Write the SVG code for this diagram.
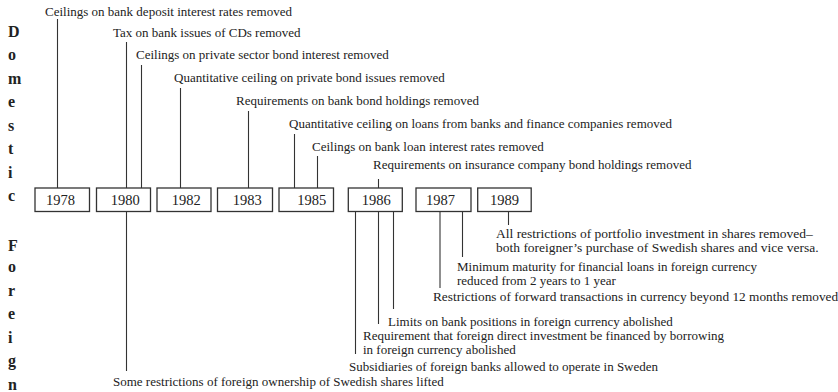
<svg xmlns="http://www.w3.org/2000/svg" width="838" height="392" viewBox="0 0 838 392">
<style>
text{font-family:"Liberation Serif","Times New Roman",serif;fill:#222}
.lbl{font-size:13px}
.yr{font-size:14.5px}
.side{font-size:16px;font-weight:bold}
.box{fill:#fff;stroke:#333;stroke-width:1.3}
.ln{stroke:#333;stroke-width:1.1;fill:none}
</style>
<rect width="838" height="392" fill="#fff"/>
<g id="side-labels">
<text class="side" x="8" y="36.7">D</text>
<text class="side" x="8" y="60">o</text>
<text class="side" x="8" y="83.5">m</text>
<text class="side" x="8" y="107">e</text>
<text class="side" x="8" y="130.5">s</text>
<text class="side" x="8" y="154">t</text>
<text class="side" x="8" y="177.5">i</text>
<text class="side" x="8" y="201">c</text>
<text class="side" x="8" y="251">F</text>
<text class="side" x="8" y="272">o</text>
<text class="side" x="8" y="295.5">r</text>
<text class="side" x="8" y="319">e</text>
<text class="side" x="8" y="342.5">i</text>
<text class="side" x="8" y="366">g</text>
<text class="side" x="8" y="389.5">n</text>
</g>
<g id="connectors">
<line class="ln" x1="57.5" y1="19" x2="57.5" y2="188"/>
<line class="ln" x1="126.5" y1="42" x2="126.5" y2="188"/>
<line class="ln" x1="141.5" y1="65" x2="141.5" y2="188"/>
<line class="ln" x1="180.5" y1="88" x2="180.5" y2="188"/>
<line class="ln" x1="248.5" y1="111" x2="248.5" y2="188"/>
<line class="ln" x1="294.5" y1="134" x2="294.5" y2="188"/>
<line class="ln" x1="317.5" y1="156" x2="317.5" y2="188"/>
<line class="ln" x1="378.5" y1="179" x2="378.5" y2="188"/>
<line class="ln" x1="126.5" y1="211.5" x2="126.5" y2="371"/>
<line class="ln" x1="355.5" y1="211.5" x2="355.5" y2="354"/>
<line class="ln" x1="378.5" y1="211.5" x2="378.5" y2="324"/>
<line class="ln" x1="393.5" y1="211.5" x2="393.5" y2="309"/>
<line class="ln" x1="440" y1="211.5" x2="440" y2="288"/>
<line class="ln" x1="462.5" y1="211.5" x2="462.5" y2="257"/>
<line class="ln" x1="508.5" y1="211.5" x2="508.5" y2="225"/>
</g>
<g id="y1978"><rect class="box" x="35" y="188" width="54.5" height="23.5"/><text class="yr" x="46" y="205">1978</text></g>
<g id="y1980"><rect class="box" x="96.5" y="188" width="54" height="23.5"/><text class="yr" x="110.7" y="205">1980</text></g>
<g id="y1982"><rect class="box" x="157" y="188" width="54" height="23.5"/><text class="yr" x="171.7" y="205">1982</text></g>
<g id="y1983"><rect class="box" x="217.5" y="188" width="55" height="23.5"/><text class="yr" x="232.7" y="205">1983</text></g>
<g id="y1985"><rect class="box" x="279" y="188" width="54.5" height="23.5"/><text class="yr" x="297.3" y="205">1985</text></g>
<g id="y1986"><rect class="box" x="348.3" y="188" width="54" height="23.5"/><text class="yr" x="361.7" y="205">1986</text></g>
<g id="y1987"><rect class="box" x="416" y="188" width="55" height="23.5"/><text class="yr" x="426" y="205">1987</text></g>
<g id="y1989"><rect class="box" x="477.7" y="188" width="53.5" height="23.5"/><text class="yr" x="490" y="205">1989</text></g>
<g id="domestic-labels">
<text class="lbl" x="45" y="16">Ceilings on bank deposit interest rates removed</text>
<text class="lbl" x="113" y="37">Tax on bank issues of CDs removed</text>
<text class="lbl" x="136" y="59">Ceilings on private sector bond interest removed</text>
<text class="lbl" x="174" y="82">Quantitative ceiling on private bond issues removed</text>
<text class="lbl" x="236" y="105">Requirements on bank bond holdings removed</text>
<text class="lbl" x="289" y="128">Quantitative ceiling on loans from banks and finance companies removed</text>
<text class="lbl" x="312" y="151">Ceilings on bank loan interest rates removed</text>
<text class="lbl" x="373" y="169">Requirements on insurance company bond holdings removed</text>
</g>
<g id="foreign-labels">
<text class="lbl" x="496" y="238" style="font-size:13.5px">All restrictions of portfolio investment in shares removed–</text>
<text class="lbl" x="496" y="252" style="font-size:13.5px">both foreigner’s purchase of Swedish shares and vice versa.</text>
<text class="lbl" x="457" y="271">Minimum maturity for financial loans in foreign currency</text>
<text class="lbl" x="457" y="285">reduced from 2 years to 1 year</text>
<text class="lbl" x="433" y="301" style="font-size:13.3px">Restrictions of forward transactions in currency beyond 12 months removed</text>
<text class="lbl" x="388" y="326">Limits on bank positions in foreign currency abolished</text>
<text class="lbl" x="363" y="340">Requirement that foreign direct investment be financed by borrowing</text>
<text class="lbl" x="363" y="354">in foreign currency abolished</text>
<text class="lbl" x="349" y="371">Subsidiaries of foreign banks allowed to operate in Sweden</text>
<text class="lbl" x="113" y="386">Some restrictions of foreign ownership of Swedish shares lifted</text>
</g>
</svg>
